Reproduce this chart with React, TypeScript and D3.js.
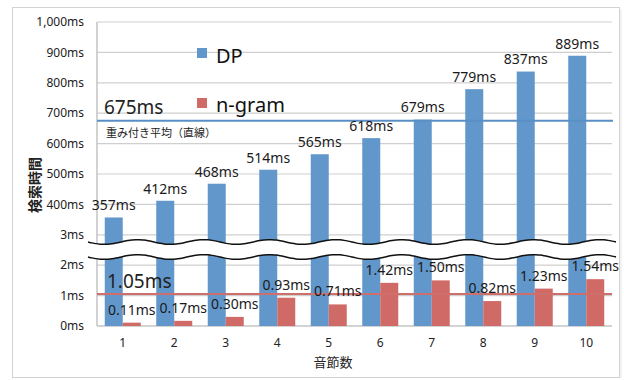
import React from "react";
import * as d3 from "d3";

// 音節数ごとの検索時間
const categories = ["1", "2", "3", "4", "5", "6", "7", "8", "9", "10"];
const dpValues = [357, 412, 468, 514, 565, 618, 679, 779, 837, 889]; // ms
const ngramValues = [0.11, 0.17, 0.3, 0.93, 0.71, 1.42, 1.5, 0.82, 1.23, 1.54]; // ms
const dpAverage = 675;
const ngramAverage = 1.05;
// 軸は 0〜3ms（下段）と 300〜1,000ms（上段）の二段構成
const tickLabels = ["0ms", "1ms", "2ms", "3ms", "400ms", "500ms", "600ms", "700ms", "800ms", "900ms", "1,000ms"];
const seriesNames = ["DP", "n-gram"];

const W = 624;
const H = 380;
const FONT = "'Noto Sans', 'Noto Sans CJK JP', sans-serif";
const JP = "'Noto Sans CJK JP', sans-serif";
const BLUE = "#6197CB";
const RED = "#D06A66";

export default function App() {
  const left = 97;
  const right = 612;
  const top = 22;
  const bottom = 326;

  // tick index scale: one step per tick label
  const yIdx = d3.scaleLinear().domain([0, tickLabels.length - 1]).range([bottom, top]);
  const yLow = (v: number) => yIdx(v); // 0〜3ms
  const yHigh = (v: number) => yIdx(v / 100); // 300〜1,000ms

  const x = d3.scaleBand<string>().domain(categories).range([left, right]).paddingInner(0).paddingOuter(0);
  const bw = 18;

  // break band between the 2ms and 3ms rows
  const breakTop = 242;
  const breakBot = 257;
  const waveX = d3.range(88, 618, 4);
  const wave = (x0: number) => 2.4 * Math.sin(((x0 - 88) / 66) * 2 * Math.PI);
  const topPath = d3.line<number>().x((d) => d).y((d) => breakTop + wave(d)).curve(d3.curveBasis)(waveX) || "";
  const botPath = d3.line<number>().x((d) => d).y((d) => breakBot + wave(d)).curve(d3.curveBasis)(waveX) || "";
  const bandPts = [
    ...waveX.map((d) => [d, breakTop + wave(d)] as [number, number]),
    ...waveX.slice().reverse().map((d) => [d, breakBot + wave(d)] as [number, number]),
  ];
  const bandPath = "M" + bandPts.map((p) => p.join(",")).join("L") + "Z";

  return (
    <div style={{ position: "fixed", left: 0, top: 0, background: "#fff" }}>
      <svg width={W} height={H} style={{ display: "block" }}>
        <rect x={0} y={0} width={W} height={H} fill="#fff" />
        <rect x={12.5} y={7.5} width={607} height={370} fill="#fff" stroke="#d2d2d2" />
        <line x1={621} y1={9} x2={621} y2={378} stroke="#e6e6e6" />

        {/* grid */}
        {tickLabels.map((t, i) => (
          <g key={t}>
            <line x1={left} x2={right} y1={yIdx(i)} y2={yIdx(i)} stroke={i === 0 ? "#a8a8a8" : "#cfcfcf"} strokeWidth={1.2} />
            <text x={84} y={yIdx(i)} dy="0.35em" textAnchor="end" fontFamily={FONT} fontSize={12} fill="#222">
              {t}
            </text>
          </g>
        ))}
        <line x1={left} x2={left} y1={top} y2={bottom} stroke="#b5b5b5" strokeWidth={1.2} />

        {/* bars */}
        {categories.map((c, i) => {
          const cx = (x(c) as number) + x.bandwidth() / 2;
          return (
            <g key={c}>
              <rect x={cx - bw} y={yHigh(dpValues[i])} width={bw} height={bottom - yHigh(dpValues[i])} fill={BLUE} />
              <rect x={cx} y={yLow(ngramValues[i])} width={bw} height={bottom - yLow(ngramValues[i])} fill={RED} />
            </g>
          );
        })}

        {/* axis break */}
        <path d={bandPath} fill="#fff" />
        <path d={topPath} fill="none" stroke="#111" strokeWidth={1.5} />
        <path d={botPath} fill="none" stroke="#111" strokeWidth={1.5} />

        {/* weighted averages */}
        <line x1={left} x2={right + 1} y1={yHigh(dpAverage)} y2={yHigh(dpAverage)} stroke="#5A8FC6" strokeWidth={2} />
        <line x1={left} x2={right} y1={yLow(ngramAverage)} y2={yLow(ngramAverage)} stroke="#CF6F6C" strokeWidth={2} />
        <text x={104} y={114} fontFamily={FONT} fontSize={19} fill="#222">
          {`${dpAverage}ms`}
        </text>
        <text x={106} y={137} fontFamily={JP} fontSize={11} fill="#222">
          重み付き平均（直線）
        </text>
        <text x={107} y={288} fontFamily={FONT} fontSize={19} fill="#222">
          {`${ngramAverage.toFixed(2)}ms`}
        </text>

        {/* value labels */}
        {categories.map((c, i) => {
          const cx = (x(c) as number) + x.bandwidth() / 2;
          return (
            <g key={"l" + c}>
              <text x={cx - bw / 2} y={yHigh(dpValues[i]) - 12} dy="0.35em" textAnchor="middle" fontFamily={FONT} fontSize={14} fill="#1a1a1a">
                {`${dpValues[i]}ms`}
              </text>
              <text x={cx + bw / 2} y={yLow(ngramValues[i]) - 13} dy="0.35em" textAnchor="middle" fontFamily={FONT} fontSize={14} fill="#1a1a1a">
                {`${ngramValues[i].toFixed(2)}ms`}
              </text>
            </g>
          );
        })}

        {/* legend */}
        <rect x={197} y={48} width={10} height={10} fill={BLUE} />
        <text x={216} y={63} fontFamily={FONT} fontSize={20} fill="#111">
          {seriesNames[0]}
        </text>
        <rect x={197} y={98} width={10} height={10} fill={RED} />
        <text x={216} y={112} fontFamily={FONT} fontSize={20} fill="#111">
          {seriesNames[1]}
        </text>

        {/* x axis */}
        {categories.map((c) => (
          <text key={"x" + c} x={(x(c) as number) + x.bandwidth() / 2} y={343} dy="0.35em" textAnchor="middle" fontFamily={FONT} fontSize={12} fill="#222">
            {c}
          </text>
        ))}
        <text x={333} y={362} dy="0.35em" textAnchor="middle" fontFamily={JP} fontSize={13} fill="#222">
          音節数
        </text>
        <text
          transform={`translate(35,185) rotate(-90)`}
          textAnchor="middle"
          dy="0.35em"
          fontFamily={JP}
          fontSize={14}
          fontWeight="bold"
          fill="#222"
        >
          検索時間
        </text>
      </svg>
    </div>
  );
}
